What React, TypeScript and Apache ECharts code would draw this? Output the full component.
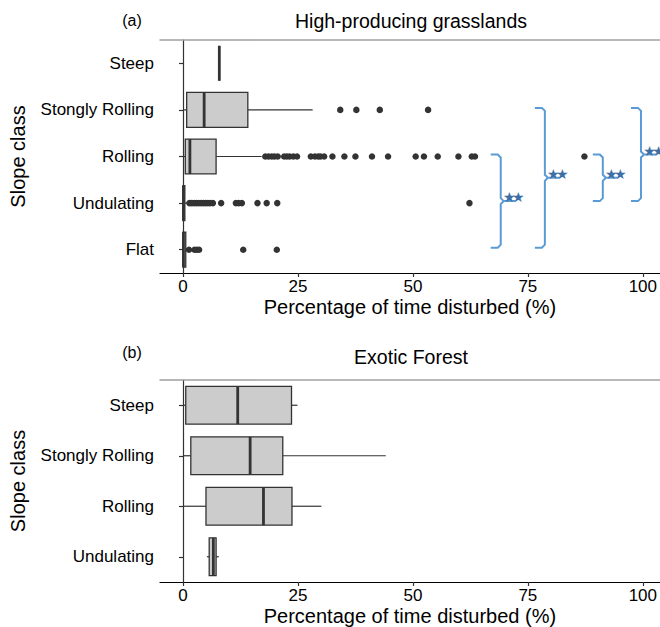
import React, { useEffect, useRef } from "react";
import * as echarts from "echarts";

// ---------- Data ----------
const grassCats = ["Flat", "Undulating", "Rolling", "Stongly Rolling", "Steep"];
// [min, q1, median, q3, max] per category (same order as grassCats)
const grassBoxes = [
  [0, 0, 0.1, 0.6, 1.0],
  [0, 0, 0.1, 0.4, 0.9],
  [0, 0.5, 1.5, 7.2, 17.1],
  [0, 0.8, 4.6, 14.1, 28.2],
  [7.9, 7.9, 7.9, 7.9, 7.9],
];
const grassOutFlat = [1.3, 2.5, 3.0, 3.5, 13.1, 20.4];
const grassOutUndulating = [1.4, 1.9, 2.4, 2.9, 3.4, 3.9, 4.4, 4.9, 5.4, 5.9, 6.5, 8.3, 11.5, 12.1, 12.8, 16.2, 18.2, 20.5, 62.3];
const grassOutRolling = [17.9, 18.6, 19.3, 19.9, 20.6, 22.0, 22.6, 23.2, 24.0, 24.8, 27.8, 28.7, 29.4, 29.9, 30.7, 32.5, 35.1, 37.5, 41.1, 44.6, 50.6, 52.4, 55.4, 59.9, 62.8, 63.5, 87.3];
const grassOutStrongly = [34.2, 37.7, 42.8, 53.3];

const forestCats = ["Undulating", "Rolling", "Stongly Rolling", "Steep"];
const forestBoxes = [
  [5.2, 5.7, 6.6, 7.2, 7.8],
  [0, 5.0, 17.5, 23.7, 30.1],
  [0, 1.7, 14.6, 21.7, 44.1],
  [0.2, 0.6, 11.9, 23.6, 24.9],
];

const xTicks = [0, 25, 50, 75, 100];

// significance brackets (panel a)
const bracketFrom = ["Rolling", "Stongly Rolling", "Rolling", "Stongly Rolling"];
const bracketTo = ["Flat", "Flat", "Undulating", "Undulating"];
const bracketX = [69.1, 78.7, 91.3, 99.6];
const bracketStars = [2, 2, 2, 2];

const FONT = "'Liberation Sans', Arial, sans-serif";

function boxRender(params: any, api: any) {
  const cat = api.value(0);
  const vals = [api.value(1), api.value(2), api.value(3), api.value(4), api.value(5)];
  const p = vals.map((v) => api.coord([v, cat]));
  const band = api.size([0, 1])[1];
  const h = band * 0.75;
  const y = p[0][1];
  const stroke = "#333333";
  return {
    type: "group",
    children: [
      { type: "line", shape: { x1: p[0][0], y1: y, x2: p[1][0], y2: y }, style: { stroke, lineWidth: 1.2 } },
      { type: "line", shape: { x1: p[3][0], y1: y, x2: p[4][0], y2: y }, style: { stroke, lineWidth: 1.2 } },
      {
        type: "rect",
        shape: { x: p[1][0], y: y - h / 2, width: p[3][0] - p[1][0], height: h },
        style: { fill: "#cccccc", stroke, lineWidth: 1.3 },
      },
      { type: "line", shape: { x1: p[2][0], y1: y - h / 2, x2: p[2][0], y2: y + h / 2 }, style: { stroke, lineWidth: 2.8 } },
    ],
  };
}

function makeXAxis(gridIndex: number) {
  return {
    type: "value",
    gridIndex,
    min: -5,
    max: 103.7,
    name: "Percentage of time disturbed (%)",
    nameLocation: "middle",
    nameGap: 24,
    nameTextStyle: { fontSize: 20, color: "#000", fontFamily: FONT },
    axisLine: { show: true, lineStyle: { color: "#000", width: 1.2 } },
    axisTick: { show: true, length: 4, customValues: xTicks, lineStyle: { color: "#333", width: 1.2 } },
    axisLabel: { show: true, customValues: xTicks, fontSize: 17, color: "#000", fontFamily: FONT, margin: 5 },
    splitLine: { show: false },
  };
}

function makeTopAxis(gridIndex: number) {
  return {
    type: "value",
    gridIndex,
    position: "top",
    min: -5,
    max: 103.7,
    axisLine: { show: true, onZero: false, lineStyle: { color: "#a0a0a0", width: 1.5 } },
    axisTick: { show: false },
    axisLabel: { show: false },
    splitLine: { show: false },
  };
}

function makeYAxis(gridIndex: number, cats: string[]) {
  return {
    type: "category",
    gridIndex,
    data: cats,
    name: "Slope class",
    nameLocation: "middle",
    nameGap: 132,
    nameRotate: 90,
    nameTextStyle: { fontSize: 20, color: "#000", fontFamily: FONT },
    axisLine: { show: true, lineStyle: { color: "#333", width: 1.2 } },
    axisTick: { show: true, length: 4, alignWithLabel: true, lineStyle: { color: "#333", width: 1.2 } },
    axisLabel: { fontSize: 17, color: "#000", fontFamily: FONT, margin: 6 },
    splitLine: { show: false },
  };
}

export default function App() {
  const ref = useRef<HTMLDivElement>(null);
  useEffect(() => {
    if (!ref.current) return;
    const chart = echarts.init(ref.current, undefined, { renderer: "svg" });

    const outliers: any[] = [];
    grassOutFlat.forEach((v) => outliers.push([v, "Flat"]));
    grassOutUndulating.forEach((v) => outliers.push([v, "Undulating"]));
    grassOutRolling.forEach((v) => outliers.push([v, "Rolling"]));
    grassOutStrongly.forEach((v) => outliers.push([v, "Stongly Rolling"]));

    const titleText = (text: string, x: number, y: number, size: number) => ({
      type: "text",
      x,
      y,
      style: { text, fontSize: size, fontFamily: FONT, fill: "#000", textAlign: "center", textVerticalAlign: "middle" },
    });

    chart.setOption({
      animation: false,
      grid: [
        { left: 160, right: 0, top: 40, height: 233 },
        { left: 160, right: 0, top: 380, height: 203 },
      ],
      xAxis: [makeXAxis(0), makeXAxis(1), makeTopAxis(0), makeTopAxis(1)],
      yAxis: [makeYAxis(0, grassCats), makeYAxis(1, forestCats)],
      series: [
        {
          type: "custom",
          xAxisIndex: 0,
          yAxisIndex: 0,
          renderItem: boxRender,
          encode: { y: 0, x: [1, 2, 3, 4, 5] },
          data: grassCats.map((c, i) => [c, ...grassBoxes[i]]),
          z: 2,
        },
        {
          type: "scatter",
          xAxisIndex: 0,
          yAxisIndex: 0,
          symbolSize: 6.5,
          itemStyle: { color: "#333333", opacity: 1 },
          data: outliers,
          z: 3,
        },
        {
          type: "custom",
          xAxisIndex: 1,
          yAxisIndex: 1,
          renderItem: boxRender,
          encode: { y: 0, x: [1, 2, 3, 4, 5] },
          data: forestCats.map((c, i) => [c, ...forestBoxes[i]]),
          z: 2,
        },
      ],
    });

    // brackets computed from data coordinates
    const graphics: any[] = [
      titleText("(a)", 132, 20, 16),
      titleText("High-producing grasslands", 411, 21, 19.5),
      titleText("(b)", 132, 352, 16),
      titleText("Exotic Forest", 411, 357, 19.5),
    ];
    const blue = "#5b9bd5";
    bracketX.forEach((bx, i) => {
      const pTop = chart.convertToPixel({ xAxisIndex: 0, yAxisIndex: 0 }, [bx, bracketFrom[i]]) as number[];
      const pBot = chart.convertToPixel({ xAxisIndex: 0, yAxisIndex: 0 }, [bx, bracketTo[i]]) as number[];
      if (!pTop || !pBot) return;
      const v = pTop[0];
      const top = pTop[1] - 2;
      const bot = pBot[1] - 2;
      const mid = (top + bot) / 2;
      const L = 10, r = 3, nub = 15;
      graphics.push({
        type: "polyline",
        shape: {
          points: [
            [v - L, top], [v - r, top], [v, top + r], [v, mid - r], [v + r, mid], [v + nub, mid],
            [v + r, mid], [v, mid + r], [v, bot - r], [v - r, bot], [v - L, bot],
          ],
        },
        style: { stroke: blue, lineWidth: 2, fill: null },
        z: 10,
      });
      for (let s = 0; s < bracketStars[i]; s++) {
        graphics.push({
          type: "text",
          x: v + 8.5 + s * 9,
          y: mid + 3,
          style: {
            text: "★",
            fontSize: 14,
            fontFamily: "'DejaVu Sans', sans-serif",
            fill: "#3d6fa5",
            textAlign: "center",
            textVerticalAlign: "bottom",
          },
          z: 11,
        });
      }
    });
    chart.setOption({ graphic: graphics });

    return () => chart.dispose();
  }, []);
  return <div ref={ref} style={{ position: "absolute", left: 0, top: 0, width: 660, height: 627, background: "#fff" }} />;
}
